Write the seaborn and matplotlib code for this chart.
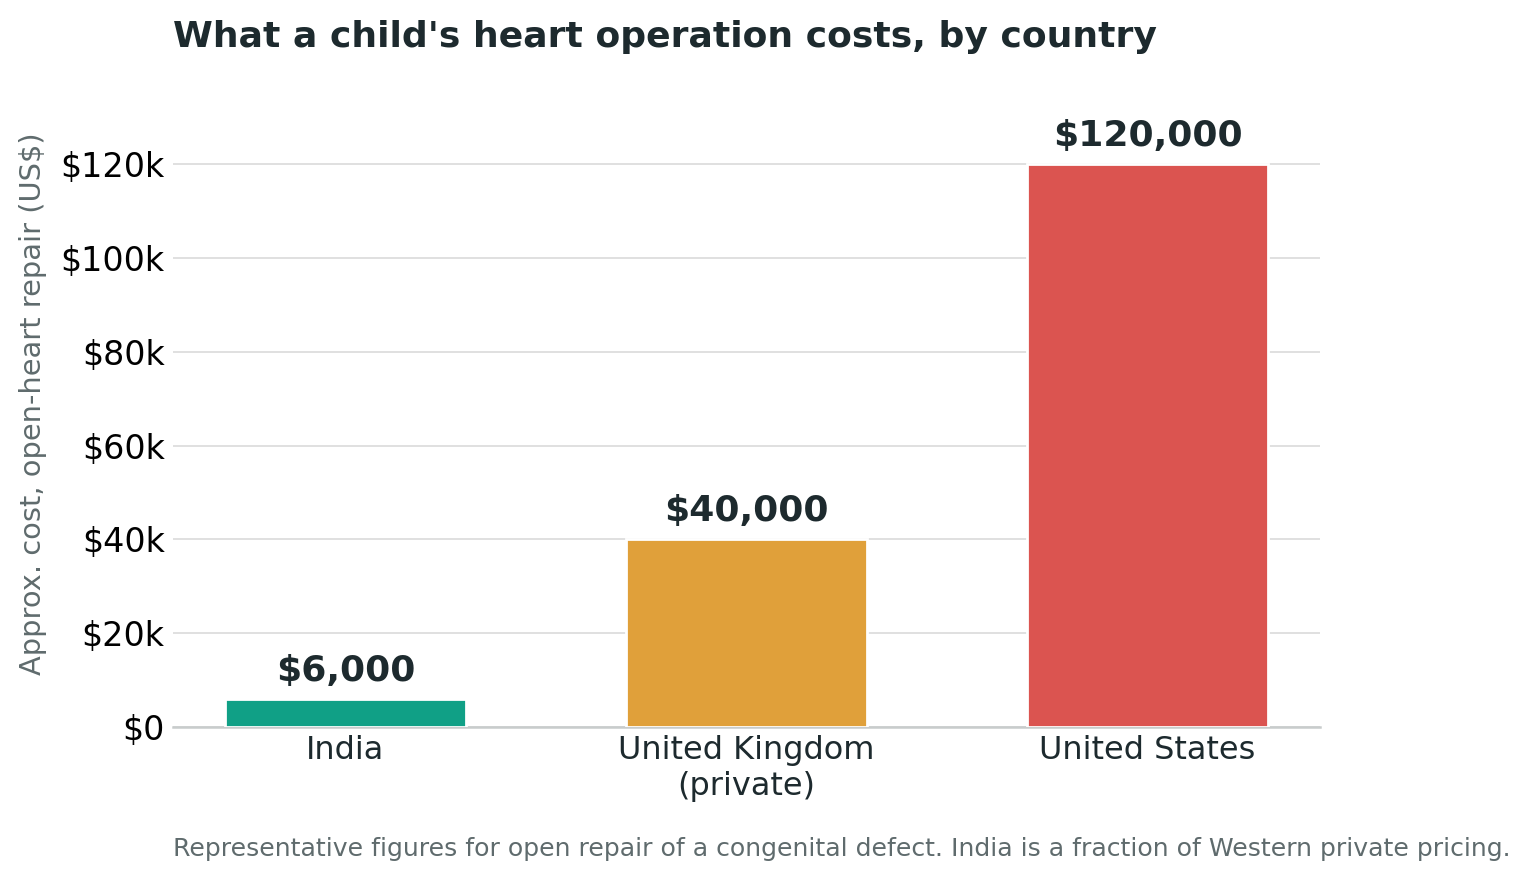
import pandas as pd
import matplotlib
matplotlib.use("Agg")
from matplotlib import pyplot as plt
from matplotlib.ticker import FuncFormatter
import seaborn as sns

countries = ["India", "United Kingdom\n(private)", "United States"]
costs = [6000, 40000, 120000]
bar_colors = ["#10a086", "#e0a03a", "#db5450"]
value_labels = ["$6,000", "$40,000", "$120,000"]

df = pd.DataFrame({"country": countries, "cost": costs})

sns.set_theme(style="white")
plt.rcParams["font.family"] = ["DejaVu Sans"]

dark = "#1d2a2e"
grey = "#5f6b6d"

fig = plt.figure(figsize=(15.34, 8.81), dpi=100)
ax = fig.add_axes([173 / 1534, 1 - 727 / 881, (1320 - 173) / 1534, (727 - 80) / 881])

sns.barplot(data=df, x="country", y="cost", hue="country", palette=bar_colors,
            saturation=1, legend=False, width=0.6, edgecolor="white", linewidth=2,
            ax=ax, zorder=3)

ax.set_xlim(-0.43, 2.43)
ax.set_ylim(0, 138000)
ax.set_yticks([0, 20000, 40000, 60000, 80000, 100000, 120000])
ax.yaxis.set_major_formatter(FuncFormatter(lambda v, p: "$0" if v == 0 else f"${int(v / 1000)}k"))
ax.grid(axis="y", color="#dddddd", linewidth=1.3, zorder=0)
ax.set_axisbelow(True)
for s in ["top", "right", "left"]:
    ax.spines[s].set_visible(False)
ax.spines["bottom"].set_color("#c8cccc")
ax.spines["bottom"].set_linewidth(1.8)
ax.tick_params(axis="y", labelsize=24, colors="black", length=0, pad=6)
ax.tick_params(axis="x", labelsize=23, labelcolor=dark, length=0, pad=6)

for i, (c, lab) in enumerate(zip(costs, value_labels)):
    ax.text(i, c + 2400, lab, ha="center", va="bottom", fontsize=26,
            fontweight="bold", color=dark)

ax.set_xlabel("")
ax.set_ylabel("Approx. cost, open-heart repair (US$)", fontsize=20.8, color=grey, labelpad=10)

fig.text(173 / 1534, 1 - 37 / 881, "What a child's heart operation costs, by country",
         fontsize=26, fontweight="bold", color=dark, ha="left", va="center")
fig.text(173 / 1534, 1 - 849 / 881,
         "Representative figures for open repair of a congenital defect. India is a fraction of Western private pricing.",
         fontsize=18.1, color=grey, ha="left", va="center")

fig.savefig("out.png", dpi=100)
